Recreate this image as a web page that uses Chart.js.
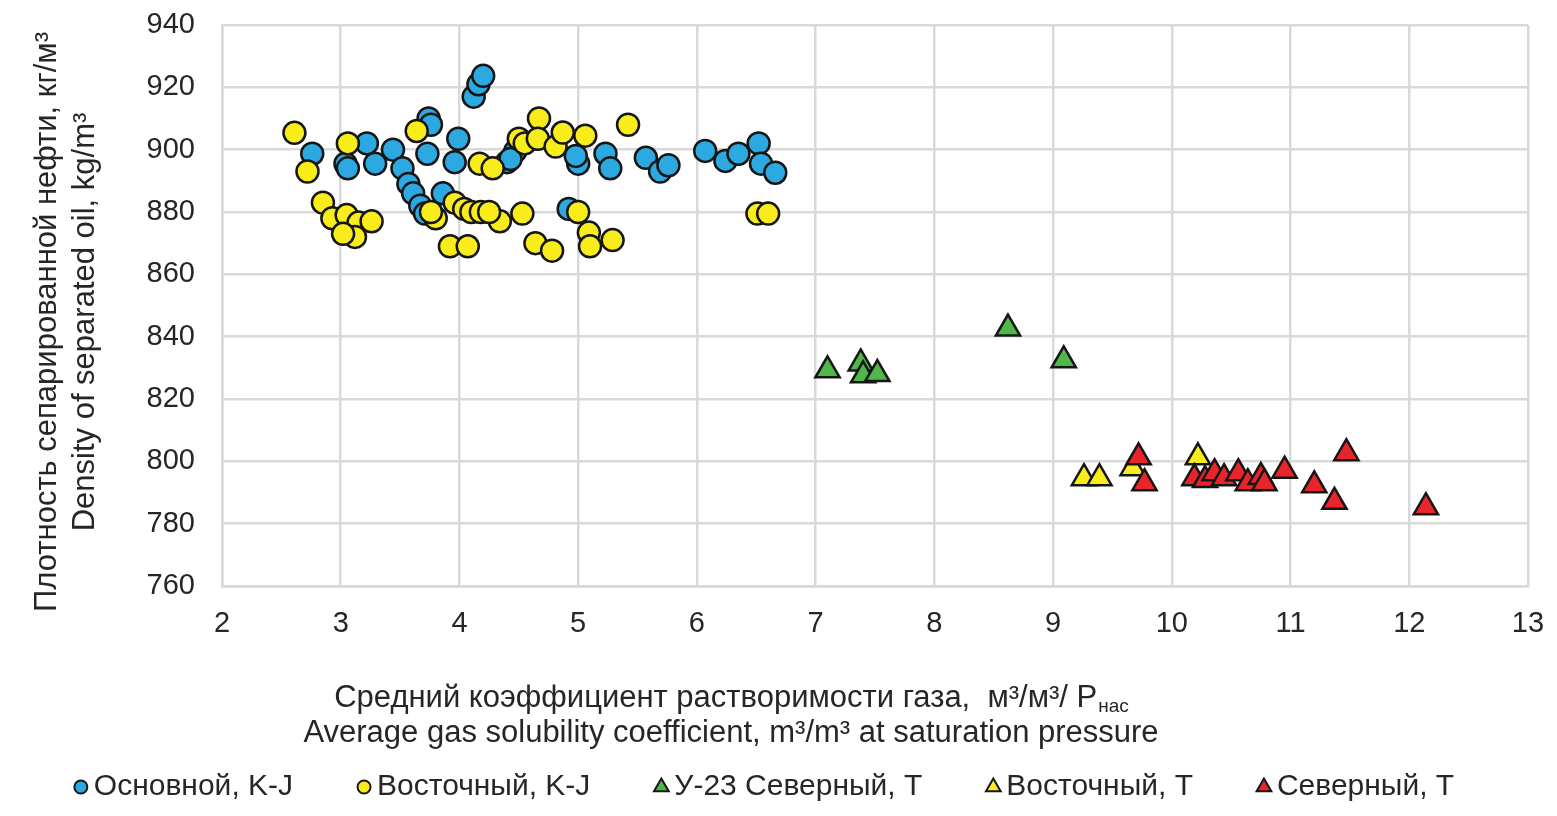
<!DOCTYPE html>
<html lang="ru">
<head>
<meta charset="utf-8">
<title>Плотность сепарированной нефти</title>
<script src="https://cdn.jsdelivr.net/npm/chart.js@4.4.1/dist/chart.umd.min.js"></script>
<style>
    html, body { margin: 0; padding: 0; background: #fff; }
    #wrap { width: 1557px; height: 816px; position: relative; }
</style>
</head>
<body>
<div id="wrap"><canvas id="densityChart"></canvas></div>
<script>
// Series data (x = gas solubility coefficient, y = oil density)
const osnovnoyKJ_x = [2.76, 3.04, 3.06, 3.22, 3.29, 3.44, 3.52, 3.57, 3.61, 3.67, 3.71, 3.74, 3.76, 3.73, 3.99, 3.96, 3.86,
    4.12, 4.16, 4.20, 4.40, 4.47, 4.43, 4.92, 5.00, 4.98, 5.23, 5.27, 5.57, 5.69, 5.76, 6.07, 6.24, 6.35, 6.52, 6.54, 6.66];
const osnovnoyKJ_y = [898.7, 895.5, 894, 902, 895.5, 900, 894, 889, 886, 882, 879.5, 910, 908, 898.7, 903.5, 896, 886,
    917, 921, 923.7, 896, 899.5, 897, 881, 895.5, 898, 898.7, 894, 897.4, 893, 895, 899.6, 896.4, 898.7, 902, 895.5, 892.6];

const vostochnyKJ_x = [2.61, 2.72, 2.85, 2.93, 3.05, 3.15, 3.26, 3.12, 3.02, 3.06, 3.64, 3.96, 3.80, 3.76, 3.92, 4.07,
    4.17, 4.28, 4.34, 4.04, 4.10, 4.18, 4.25, 4.50, 4.55, 4.67, 4.66, 4.81, 4.87, 5.06, 5.42, 4.53, 5.00, 5.09, 5.10, 5.29,
    4.64, 4.78, 6.51, 6.60];
const vostochnyKJ_y = [905.4, 893, 883, 878, 879, 876.6, 877, 872, 873, 902, 906, 883, 878, 880, 869, 869,
    895.5, 894, 877, 881, 880, 880, 880, 903.5, 902, 910, 903.5, 901, 905.5, 904.5, 908, 879.5, 880, 873.4, 869, 871,
    870, 867.6, 879.5, 879.5];

const u23SevernyT_x = [7.10, 7.38, 7.40, 7.52, 8.62, 9.09];
const u23SevernyT_y = [829.2, 831.4, 827.6, 828, 842.6, 832.4];

const vostochnyT_x = [9.26, 9.39, 9.67, 10.22];
const vostochnyT_y = [794.6, 794.6, 797.8, 801.3];

const severnyT_x = [9.72, 9.77, 10.19, 10.28, 10.36, 10.44, 10.56, 10.64, 10.75, 10.78, 10.95, 11.20, 11.37, 11.47, 12.14];
const severnyT_y = [801.3, 793, 794.6, 794, 796.2, 794.6, 796.2, 793, 795, 793, 797, 792.3, 787, 802.6, 785.3];

const seriesLabels = ['Основной, K-J', 'Восточный, K-J', 'У-23 Северный, T', 'Восточный, T', 'Северный, T'];
const xTicks = [2, 3, 4, 5, 6, 7, 8, 9, 10, 11, 12, 13];
const yTicks = [760, 780, 800, 820, 840, 860, 880, 900, 920, 940];

const yTitleLines = ['Плотность сепарированной нефти, кг/м³', 'Density of separated oil, kg/m³'];
const xTitleMain = 'Средний коэффициент растворимости газа,  м³/м³/ P';
const xTitleSub = 'нас';
const xTitleLine2 = 'Average gas solubility coefficient, m³/m³ at saturation pressure';

// Styles
const FONT = '"Liberation Sans", Arial, sans-serif';
const TEXT_COLOR = '#262626';
const GRID_COLOR = '#d9d9d9';
const EDGE = '#161616';
const colors = ['#2DA9E1', '#F9EC1B', '#50B848', '#F9EC1B', '#E8252A'];
const styles = ['circle', 'circle', 'triangle', 'triangle', 'triangle'];

function toPoints(xs, ys) {
    return xs.map((x, i) => ({ x: x, y: ys[i] }));
}

const seriesData = [
    toPoints(osnovnoyKJ_x, osnovnoyKJ_y),
    toPoints(vostochnyKJ_x, vostochnyKJ_y),
    toPoints(u23SevernyT_x, u23SevernyT_y),
    toPoints(vostochnyT_x, vostochnyT_y),
    toPoints(severnyT_x, severnyT_y)
];

// later series drawn on top (like the original)
const datasets = seriesData.map((pts, i) => ({
    label: seriesLabels[i],
    data: pts,
    order: seriesData.length - 1 - i,
    pointStyle: styles[i],
    pointRadius: styles[i] === 'circle' ? 11 : 14,
    pointHoverRadius: styles[i] === 'circle' ? 11 : 14,
    backgroundColor: colors[i],
    borderColor: EDGE,
    borderWidth: 2.5,
    showLine: false
}));

// Titles + legend drawn on the canvas
const textPlugin = {
    id: 'textPlugin',
    afterDraw(chart) {
        const ctx = chart.ctx;
        ctx.save();
        ctx.fillStyle = TEXT_COLOR;
        ctx.textBaseline = 'middle';

        // y title (rotated, two lines)
        ctx.font = '31px ' + FONT;
        ctx.textAlign = 'center';
        [47, 85].forEach((x, i) => {
            ctx.save();
            ctx.translate(x, 322);
            ctx.rotate(-Math.PI / 2);
            ctx.fillText(yTitleLines[i], 0, 0);
            ctx.restore();
        });

        // x title, first line with subscript
        const cx = 731;
        ctx.font = '31px ' + FONT;
        const wMain = ctx.measureText(xTitleMain).width;
        ctx.font = '19px ' + FONT;
        const wSub = ctx.measureText(xTitleSub).width;
        const start = cx - (wMain + wSub) / 2;
        ctx.textAlign = 'left';
        ctx.font = '31px ' + FONT;
        ctx.fillText(xTitleMain, start, 698);
        ctx.font = '19px ' + FONT;
        ctx.fillText(xTitleSub, start + wMain + 1, 707);
        ctx.font = '31px ' + FONT;
        ctx.textAlign = 'center';
        ctx.fillText(xTitleLine2, cx, 733);

        // legend
        ctx.font = '30px ' + FONT;
        const gap = 64, markGap = 13;
        const widths = seriesLabels.map(l => ctx.measureText(l).width);
        const total = widths.reduce((a, w) => a + w + markGap + 7, 0) + gap * (seriesLabels.length - 1);
        let x = 764 - total / 2;
        const ly = 787;
        ctx.textAlign = 'left';
        seriesLabels.forEach((label, i) => {
            const mx = x + 7;
            ctx.fillStyle = colors[i];
            ctx.strokeStyle = EDGE;
            ctx.lineWidth = 2;
            ctx.beginPath();
            if (styles[i] === 'circle') {
                ctx.arc(mx, ly, 6.5, 0, Math.PI * 2);
            } else {
                const r = 8.5;
                ctx.moveTo(mx, ly - r);
                ctx.lineTo(mx + r * 0.866, ly + r * 0.5);
                ctx.lineTo(mx - r * 0.866, ly + r * 0.5);
                ctx.closePath();
            }
            ctx.fill();
            ctx.stroke();
            ctx.fillStyle = TEXT_COLOR;
            ctx.fillText(label, mx + markGap, ly);
            x = mx + markGap + widths[i] + gap;
        });
        ctx.restore();
    }
};

const ctx = document.getElementById('densityChart').getContext('2d');
new Chart(ctx, {
    type: 'scatter',
    data: { datasets: datasets },
    options: {
        responsive: true,
        maintainAspectRatio: false,
        animation: false,
        layout: { padding: { top: 25, right: 29, bottom: 0, left: 0 } },
        plugins: {
            legend: { display: false },
            tooltip: { enabled: false }
        },
        scales: {
            x: {
                type: 'linear',
                min: xTicks[0],
                max: xTicks[xTicks.length - 1],
                afterBuildTicks: (scale) => { scale.ticks = xTicks.map(v => ({ value: v })); },
                afterFit: (scale) => {
                    scale.height = 230;
                    scale.paddingLeft = 0;
                    scale.paddingRight = 0;
                },
                ticks: {
                    autoSkip: false,
                    padding: 21,
                    color: TEXT_COLOR,
                    font: { family: FONT, size: 29 }
                },
                grid: { color: GRID_COLOR, lineWidth: 2.5, drawTicks: false },
                border: { color: GRID_COLOR, width: 2.5 }
            },
            y: {
                type: 'linear',
                min: yTicks[0],
                max: yTicks[yTicks.length - 1],
                afterBuildTicks: (scale) => { scale.ticks = yTicks.map(v => ({ value: v })); },
                afterFit: (scale) => {
                    scale.width = 222;
                    scale.paddingTop = 0;
                    scale.paddingBottom = 0;
                },
                ticks: {
                    autoSkip: false,
                    padding: 27,
                    color: TEXT_COLOR,
                    font: { family: FONT, size: 29 }
                },
                grid: { color: GRID_COLOR, lineWidth: 2.5, drawTicks: false },
                border: { color: GRID_COLOR, width: 2.5 }
            }
        }
    },
    plugins: [textPlugin]
});
</script>
</body>
</html>
